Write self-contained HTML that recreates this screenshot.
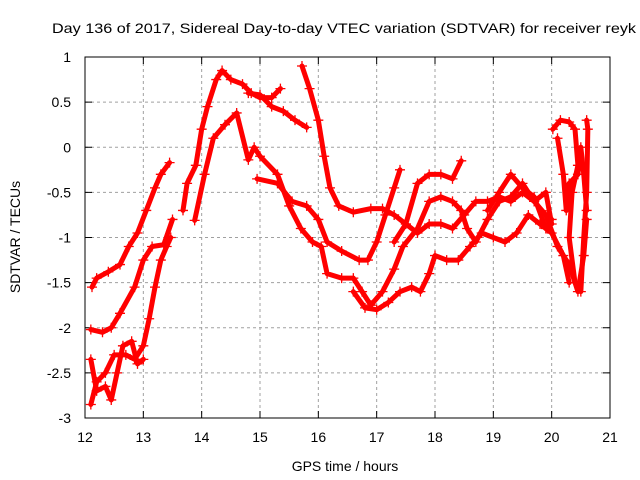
<!DOCTYPE html>
<html><head><meta charset="utf-8"><style>
body{margin:0;background:#fff;}
svg{display:block;font-family:"Liberation Sans",sans-serif;}
</style></head><body>
<svg id="chart" width="640" height="480" viewBox="0 0 640 480">
<text x="52" y="33" font-size="14" textLength="584" lengthAdjust="spacingAndGlyphs">Day 136 of 2017, Sidereal Day-to-day VTEC variation (SDTVAR) for receiver reyk</text>
<g id="grid"></g>
<g id="axes"></g>
<g id="series"></g>
<text x="345" y="471" font-size="14" text-anchor="middle">GPS time / hours</text>
<text transform="translate(20,237) rotate(-90)" font-size="14" text-anchor="middle">SDTVAR / TECUs</text>
</svg>
<script>
const xTicks=[12,13,14,15,16,17,18,19,20,21];
const yTicks=[1,0.5,0,-0.5,-1,-1.5,-2,-2.5,-3];
const yTickLabels=["1","0.5","0","-0.5","-1","-1.5","-2","-2.5","-3"];
const t1=[[12.12,-1.55],[12.2,-1.45],[12.4,-1.38],[12.6,-1.3],[12.75,-1.1],[12.9,-0.95],[13.05,-0.7],[13.2,-0.45],[13.3,-0.3],[13.45,-0.17]];
const t2=[[12.1,-2.02],[12.3,-2.05],[12.45,-2.0],[12.6,-1.84],[12.85,-1.55],[13.0,-1.25],[13.15,-1.1],[13.35,-1.08],[13.5,-0.8]];
const t3=[[12.1,-2.85],[12.2,-2.6],[12.35,-2.5],[12.5,-2.3],[12.7,-2.3],[12.85,-2.35],[13.0,-2.2],[13.1,-1.9],[13.2,-1.55],[13.3,-1.25],[13.4,-1.1],[13.47,-1.0]];
const t4=[[12.1,-2.35],[12.2,-2.7],[12.35,-2.65],[12.45,-2.8],[12.55,-2.5],[12.65,-2.2],[12.8,-2.15],[12.9,-2.4],[13.0,-2.35]];
const t5=[[13.68,-0.7],[13.75,-0.4],[13.9,-0.2],[14.0,0.2],[14.1,0.45],[14.25,0.75],[14.35,0.85],[14.5,0.75],[14.7,0.7],[14.85,0.6],[15.0,0.55],[15.2,0.55],[15.35,0.65]];
const t6=[[14.8,0.6],[15.0,0.58],[15.2,0.45],[15.4,0.4],[15.6,0.3],[15.8,0.22]];
const t7=[[13.88,-0.81],[14.05,-0.3],[14.2,0.1],[14.4,0.25],[14.6,0.38],[14.8,-0.14],[14.9,0.0],[15.0,-0.1],[15.3,-0.3],[15.5,-0.65],[15.7,-0.9],[15.9,-1.05],[16.05,-1.1],[16.15,-1.4],[16.4,-1.45],[16.6,-1.45],[16.75,-1.6],[16.9,-1.75],[17.1,-1.6],[17.3,-1.35],[17.45,-1.1],[17.7,-0.9],[17.9,-0.6],[18.1,-0.55],[18.3,-0.6],[18.45,-0.7],[18.55,-0.9],[18.7,-1.05],[18.9,-0.8],[19.1,-0.6],[19.3,-0.55],[19.5,-0.4],[19.7,-0.6],[19.9,-0.5],[20.0,-0.85]];
const t8=[[15.72,0.9],[15.85,0.65],[16.0,0.3],[16.1,-0.1],[16.2,-0.45],[16.35,-0.65],[16.6,-0.72],[16.9,-0.68],[17.1,-0.68],[17.3,-0.75],[17.5,-0.85],[17.7,-0.95],[17.9,-0.85],[18.1,-0.85],[18.3,-0.9],[18.5,-0.75],[18.7,-0.6],[18.9,-0.6],[19.1,-0.55],[19.3,-0.6],[19.5,-0.5],[19.7,-0.6],[19.9,-0.75],[20.1,-1.1],[20.3,-1.3],[20.45,-1.6],[20.55,-1.2],[20.6,-0.8]];
const t9=[[14.95,-0.35],[15.3,-0.4],[15.55,-0.6],[15.8,-0.65],[16.0,-0.8],[16.15,-1.05],[16.4,-1.15],[16.7,-1.25],[16.85,-1.25],[17.0,-1.05],[17.15,-0.75],[17.3,-0.45],[17.4,-0.25]];
const t10=[[16.6,-1.6],[16.8,-1.78],[17.0,-1.8],[17.2,-1.72],[17.4,-1.6],[17.6,-1.55],[17.75,-1.6],[17.9,-1.4],[18.0,-1.2],[18.2,-1.25],[18.4,-1.25],[18.6,-1.1],[18.8,-0.95],[19.0,-1.0],[19.2,-1.05],[19.4,-0.95],[19.6,-0.75],[19.8,-0.85],[20.0,-0.95],[20.2,-1.2],[20.3,-1.5]];
const t11=[[17.3,-1.05],[17.5,-0.85],[17.7,-0.4],[17.9,-0.3],[18.1,-0.3],[18.3,-0.35],[18.45,-0.15]];
const t12=[[18.9,-0.7],[19.1,-0.5],[19.3,-0.3],[19.5,-0.45],[19.7,-0.55],[19.9,-0.9],[20.0,-0.8]];
const t13=[[20.02,0.2],[20.15,0.3],[20.3,0.28],[20.4,0.2],[20.45,-0.2],[20.35,-0.5],[20.3,-1.0],[20.4,-1.5],[20.5,-1.6],[20.55,-1.0],[20.6,-0.5],[20.62,0.2],[20.6,0.3]];
const t14=[[20.1,0.1],[20.2,-0.3],[20.25,-0.7],[20.3,-0.4],[20.45,-0.3],[20.5,0.0],[20.55,-0.3],[20.6,-0.7]];
const tracks=[t1,t2,t3,t4,t5,t6,t7,t8,t9,t10,t11,t12,t13,t14];

const L=85,R=610,T=57,B=418,x0=12,x1=21,y0=-3,y1=1;
const X=h=>L+(h-x0)/(x1-x0)*(R-L);
const Y=v=>B-(v-y0)/(y1-y0)*(B-T);
const NS="http://www.w3.org/2000/svg";
function mk(tag,attrs,parent){const e=document.createElementNS(NS,tag);for(const k in attrs)e.setAttribute(k,attrs[k]);parent.appendChild(e);return e;}
const grid=document.getElementById('grid'),axes=document.getElementById('axes'),series=document.getElementById('series');
xTicks.forEach((t,i)=>{
  const x=X(t);
  if(i>0&&i<xTicks.length-1){const g=mk('line',{x1:x,x2:x,y1:T,y2:B,stroke:'#a0a0a0','stroke-dasharray':'3,3'},grid);
  
  }
  mk('line',{x1:x,x2:x,y1:B,y2:B-7,stroke:'#000'},axes);
  mk('line',{x1:x,x2:x,y1:T,y2:T+7,stroke:'#000'},axes);
  const lb=mk('text',{x:x,y:B+24,'font-size':14,'text-anchor':'middle'},axes);lb.textContent=t;
  
  
});
yTicks.forEach((t,i)=>{
  const y=Y(t);
  if(i>0&&i<yTicks.length-1){const g=mk('line',{x1:L,x2:R,y1:y,y2:y,stroke:'#a0a0a0','stroke-dasharray':'3,3'},grid);
  
  }
  mk('line',{x1:L,x2:L+7,y1:y,y2:y,stroke:'#000'},axes);
  mk('line',{x1:R,x2:R-7,y1:y,y2:y,stroke:'#000'},axes);
  const lb=mk('text',{x:L-14,y:y+5,'font-size':14,'text-anchor':'end'},axes);lb.textContent=yTickLabels[i];
  
  
});
const fr=mk('rect',{x:L,y:T,width:R-L,height:B-T,fill:'none',stroke:'#000'},axes);


tracks.forEach(tr=>{
  const pl=mk('polyline',{points:tr.map(p=>X(p[0])+','+Y(p[1])).join(' '),fill:'none',stroke:'#ff0000','stroke-width':5,'stroke-linejoin':'round','stroke-linecap':'round'},series);
  
  
  tr.forEach(p=>{
    const x=X(p[0]),y=Y(p[1]);
    const m=mk('path',{d:`M${x-5},${y}H${x+5}M${x},${y-5}V${y+5}`,stroke:'#ff0000','stroke-width':1.3},series);
    
    
  });
});
</script>
</body></html>
